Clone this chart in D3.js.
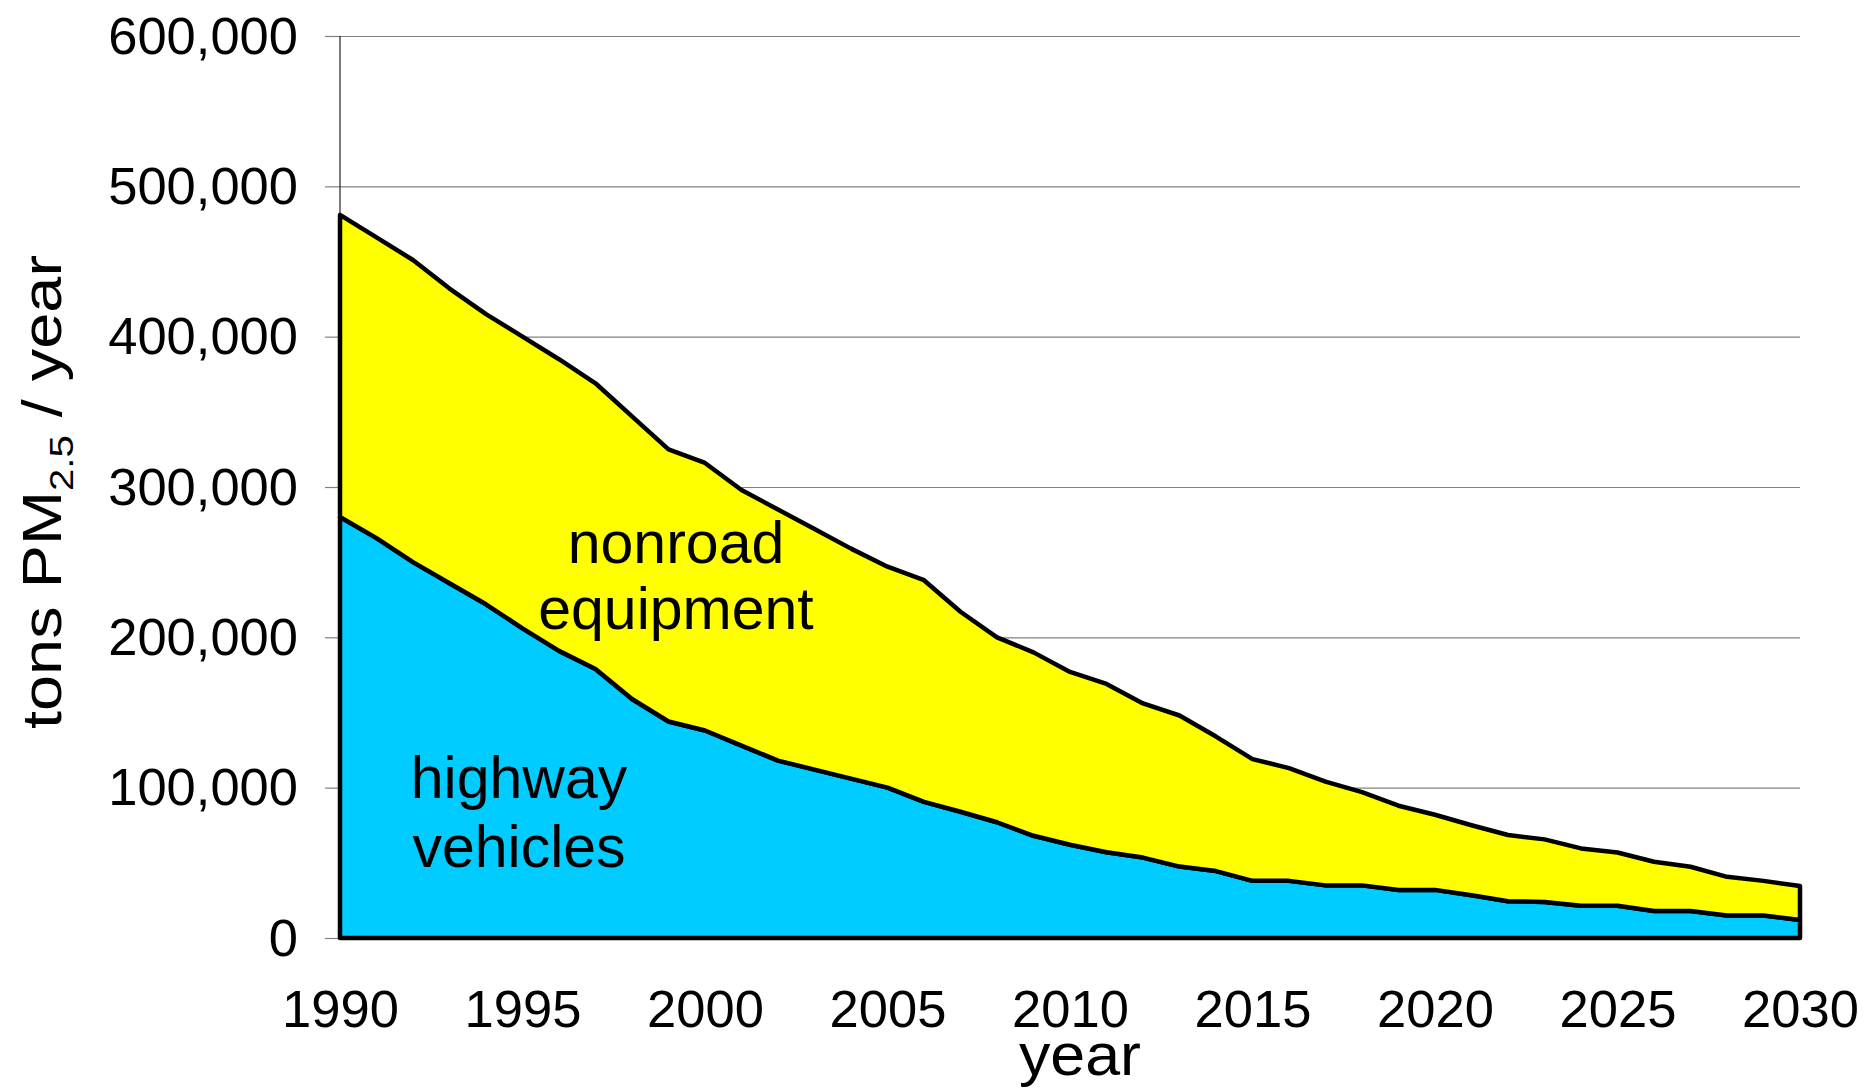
<!DOCTYPE html>
<html lang="en">
<head>
<meta charset="utf-8">
<title>PM2.5 emissions - highway vehicles and nonroad equipment</title>
<script src="https://d3js.org/d3.v7.min.js"></script>
<style>
body { margin: 0; background: #fff; }
text { font-family: "Liberation Sans", Arial, sans-serif; fill: #000; }
</style>
</head>
<body>
<div id="chart"></div>
<script>

// data (tons PM2.5 / year)
var years = d3.range(1990, 2031);
var highway = [280000, 266000, 250000, 236000, 222000, 206000, 191000, 179000, 159000, 144000,
  138000, 128000, 118000, 112000, 106000, 100000, 90500, 84000, 77000, 68000,
  62000, 57000, 53500, 47500, 44500, 38000, 38000, 35000, 35000, 32000,
  32000, 28500, 24500, 24000, 21500, 21500, 18000, 18000, 15000, 15000, 12000];
var nonroad = [201000, 200000, 201000, 196000, 193000, 194000, 194000, 190000, 188000, 181000,
  178000, 170000, 167000, 160000, 153000, 147000, 147500, 133000, 123000, 122000,
  115000, 112000, 102500, 100500, 89500, 81000, 75000, 69000, 62000, 56000,
  50000, 46500, 44000, 41600, 38100, 35400, 32700, 29400, 25700, 23000, 22600];
var yTicks = [0, 100000, 200000, 300000, 400000, 500000, 600000];
var xTicks = [1990, 1995, 2000, 2005, 2010, 2015, 2020, 2025, 2030];
var seriesKeys = ["highway", "nonroad"];
var seriesColors = ["#00CCFF", "#FFFF00"];

var margin = {top: 36, right: 66, bottom: 152, left: 340},
    W = 1866, H = 1090,
    width = W - margin.left - margin.right,
    height = H - margin.top - margin.bottom;

var svg = d3.select("#chart").append("svg")
    .attr("width", W)
    .attr("height", H)
  .append("g")
    .attr("transform", "translate(" + margin.left + "," + margin.top + ")");

var x = d3.scaleLinear().domain([1990, 2030]).range([0, width]);
var y = d3.scaleLinear().domain([0, 600000]).range([height, 0]);

// gridlines
svg.append("g")
    .call(d3.axisLeft(y).tickValues(yTicks).tickSize(-width).tickFormat(""))
    .call(function(g) { g.select(".domain").remove(); })
    .selectAll("line")
    .attr("stroke", "#808080")
    .attr("stroke-width", 1.2);

// y axis with tick marks and labels
svg.append("g")
    .call(d3.axisLeft(y).tickValues(yTicks).tickSize(15).tickPadding(27).tickFormat(d3.format(",")))
    .call(function(g) {
      g.select(".domain").remove();
      g.selectAll("line").attr("stroke", "#808080").attr("stroke-width", 1.2);
      g.selectAll("text").attr("font-size", "52.5px").attr("dy", "0.33em")
        .style("font-family", "'Liberation Sans', Arial, sans-serif");
    });

svg.append("line")
    .attr("x1", 0).attr("x2", 0)
    .attr("y1", 0).attr("y2", height)
    .attr("stroke", "#222")
    .attr("stroke-width", 1.2);

// stacked areas
var table = years.map(function(yr, i) {
  return {year: yr, highway: highway[i], nonroad: nonroad[i]};
});
var stacked = d3.stack().keys(seriesKeys)(table);

var area = d3.area()
    .x(function(d) { return x(d.data.year); })
    .y0(function(d) { return y(d[0]); })
    .y1(function(d) { return y(d[1]); });

svg.append("g")
  .selectAll("path")
  .data(stacked)
  .enter().append("path")
    .attr("d", area)
    .attr("fill", function(d, i) { return seriesColors[i]; })
    .attr("stroke", "#000")
    .attr("stroke-width", 4.5)
    .attr("stroke-linejoin", "round");

// x axis labels
svg.append("g")
    .attr("transform", "translate(0," + height + ")")
    .call(d3.axisBottom(x).tickValues(xTicks).tickSize(0).tickFormat(d3.format("d")))
    .call(function(g) {
      g.select(".domain").remove();
      g.selectAll("text").attr("font-size", "52.5px").attr("y", 89).attr("dy", null)
        .style("font-family", "'Liberation Sans', Arial, sans-serif");
    });

// axis titles
svg.append("text")
    .attr("x", 1080 - margin.left)
    .attr("y", 1075 - margin.top)
    .attr("text-anchor", "middle")
    .attr("font-size", "60px")
    .attr("textLength", 122)
    .attr("lengthAdjust", "spacingAndGlyphs")
    .text("year");

var yt = svg.append("text")
    .attr("transform", "rotate(-90)")
    .attr("x", -(492 - margin.top))
    .attr("y", 61 - margin.left)
    .attr("text-anchor", "middle")
    .attr("font-size", "55px")
    .attr("textLength", 474)
    .attr("lengthAdjust", "spacingAndGlyphs");
yt.append("tspan").text("tons PM");
yt.append("tspan").attr("font-size", "34px").attr("dy", 12).text("2.5");
yt.append("tspan").attr("dy", -12).text(" / year");

// series labels
svg.append("text")
    .attr("x", 676 - margin.left).attr("y", 563 - margin.top)
    .attr("text-anchor", "middle").attr("font-size", "59px")
    .text("nonroad");
svg.append("text")
    .attr("x", 676 - margin.left).attr("y", 629 - margin.top)
    .attr("text-anchor", "middle").attr("font-size", "59px")
    .text("equipment");
svg.append("text")
    .attr("x", 519 - margin.left).attr("y", 798 - margin.top)
    .attr("text-anchor", "middle").attr("font-size", "59px")
    .text("highway");
svg.append("text")
    .attr("x", 519 - margin.left).attr("y", 867 - margin.top)
    .attr("text-anchor", "middle").attr("font-size", "59px")
    .text("vehicles");

</script>
</body>
</html>
